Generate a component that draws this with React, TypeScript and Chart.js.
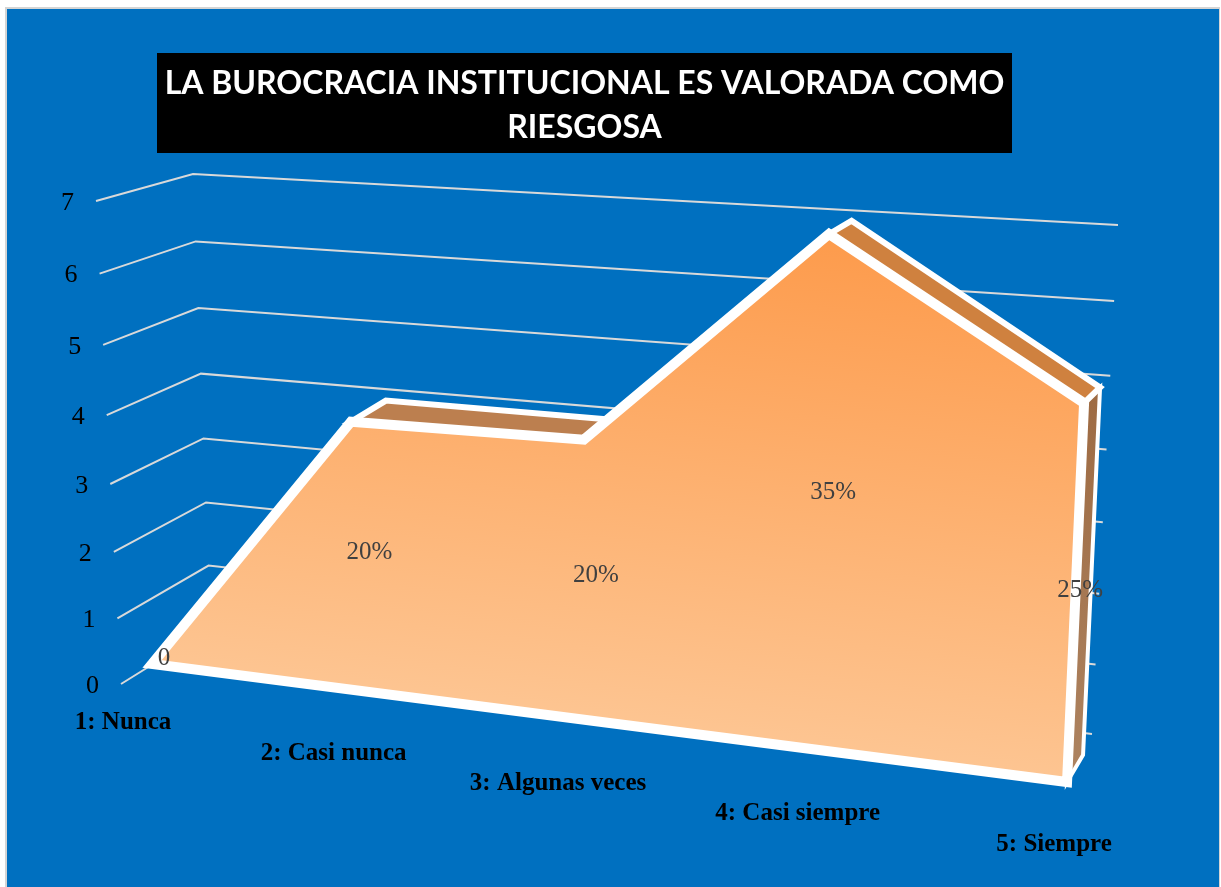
import React, { useEffect, useRef } from "react";
import { Chart, registerables } from "chart.js";

Chart.register(...registerables);

const CATEGORY_LABELS = ["1: Nunca", "2: Casi nunca", "3: Algunas veces", "4: Casi siempre", "5: Siempre"];
const CATEGORY_NUMBERS = [1, 2, 3, 4, 5];
const SERIES_VALUES = [0, 4, 4, 7, 5];
const VALUE_LABELS = ["0", "20%", "20%", "35%", "25%"];
const AXIS_TICKS = [0, 1, 2, 3, 4, 5, 6, 7];
const TITLE_LINES = ["LA BUROCRACIA INSTITUCIONAL ES VALORADA COMO", "RIESGOSA"];

type P = [number, number];

// Square-to-quad homography: corners are bottom-left, bottom-right, top-right, top-left
function plane(p0: P, p1: P, p2: P, p3: P) {
  const [x0, y0] = p0, [x1, y1] = p1, [x2, y2] = p2, [x3, y3] = p3;
  const dx1 = x1 - x2, dx2 = x3 - x2, sx = x0 - x1 + x2 - x3;
  const dy1 = y1 - y2, dy2 = y3 - y2, sy = y0 - y1 + y2 - y3;
  const det = dx1 * dy2 - dx2 * dy1;
  const g = (sx * dy2 - dx2 * sy) / det;
  const h = (dx1 * sy - sx * dy1) / det;
  const a = x1 - x0 + g * x1, b = x3 - x0 + h * x3;
  const d = y1 - y0 + g * y1, e = y3 - y0 + h * y3;
  return (u: number, t: number): P => {
    const w = g * u + h * t + 1;
    return [(a * u + b * t + x0) / w, (d * u + e * t + y0) / w];
  };
}

const rational = (a: number, b: number, c: number, g: number, h: number) => (u: number, t: number) =>
  (a * u + b * t + c) / (1 + g * u + h * t);

// Depth planes of the 3D view, as functions of normalised category (u) and value (t)
const frontX = rational(831.5, -51.2, 152, -0.0783, -0.0675);
const frontY = rational(4.2, -466, 664, -0.1455, -0.0314);
const seriesFront = (u: number, t: number): P => [frontX(u, t), frontY(u, t)];
const depthOffset = (u: number, t: number): P => [
  (1 - u) * (40 + 2 * t) + u * 16,
  (1 - u) * (-25 + 5 * t) + u * (-27 + 16 * t),
];
const backWall = plane([211, 628], [1092, 734], [1118, 225], [193, 174]);
const leftX = rational(801.4, -25, 121, -0.123, 0);
const leftY = rational(122, -494.6, 684, 0, -0.0577);
const leftFront = (u: number, t: number): P => [leftX(u, t), leftY(u, t)];

const FRONT = 0, BACK = 1, WALL = 2, LEFT = 3;

function project(u: number, t: number, d: number): P {
  if (d === WALL) return backWall(u, t);
  if (d === LEFT) return leftFront(u, t);
  const f = seriesFront(u, t), o = depthOffset(u, t);
  return [f[0] + o[0] * d, f[1] + o[1] * d];
}

const closed = (pts: any[]) => [...pts, pts[0], pts[1]];

const frontPolygon = closed([
  ...CATEGORY_NUMBERS.map((c, i) => ({ x: c, y: SERIES_VALUES[i], d: FRONT })),
  { x: CATEGORY_NUMBERS[4], y: 0, d: FRONT },
]);

const ribbon = (i: number, j: number) =>
  closed([
    { x: CATEGORY_NUMBERS[i], y: SERIES_VALUES[i], d: FRONT },
    { x: CATEGORY_NUMBERS[j], y: SERIES_VALUES[j], d: FRONT },
    { x: CATEGORY_NUMBERS[j], y: SERIES_VALUES[j], d: BACK },
    { x: CATEGORY_NUMBERS[i], y: SERIES_VALUES[i], d: BACK },
  ]);

const sideRibbon = closed([
  { x: CATEGORY_NUMBERS[4], y: SERIES_VALUES[4], d: FRONT },
  { x: CATEGORY_NUMBERS[4], y: 0, d: FRONT },
  { x: CATEGORY_NUMBERS[4], y: 0, d: BACK },
  { x: CATEGORY_NUMBERS[4], y: SERIES_VALUES[4], d: BACK },
]);

const gridLine = (v: number) => [
  { x: CATEGORY_NUMBERS[0], y: v, d: LEFT },
  { x: CATEGORY_NUMBERS[0], y: v, d: WALL },
  { x: CATEGORY_NUMBERS[4], y: v, d: WALL },
];

const SERIF = '"Liberation Serif", serif';

const projection = {
  id: "projection",
  beforeDraw(chart: any) {
    const { ctx, width, height } = chart;
    ctx.save();
    ctx.fillStyle = "#FFFFFF";
    ctx.fillRect(0, 0, width, height);
    ctx.fillStyle = "#D4D4D4";
    ctx.fillRect(5, 7, 1215, height - 7);
    ctx.fillStyle = "#0070C0";
    ctx.fillRect(7, 9, 1212, height - 9);
    ctx.fillStyle = "#000000";
    ctx.fillRect(157, 53, 855, 100);
    ctx.restore();
  },
  afterLayout(chart: any) {
    const t = chart.titleBlock;
    t.left = 157;
    t.right = 1012;
    t.top = 62;
    t.bottom = 153;
  },
  afterDatasetsUpdate(chart: any) {
    const { x: xs, y: ys } = chart.scales;
    chart.data.datasets.forEach((ds: any, i: number) => {
      const meta = chart.getDatasetMeta(i);
      meta.data.forEach((el: any, k: number) => {
        const u = (xs.getPixelForValue(ds.data[k].x) - xs.left) / xs.width;
        const t = (ys.bottom - ys.getPixelForValue(ds.data[k].y)) / ys.height;
        const [px, py] = project(u, t, ds.data[k].d);
        el.x = px;
        el.y = py;
      });
    });
  },
  afterDatasetsDraw(chart: any) {
    const { ctx } = chart;
    const { x: xs, y: ys } = chart.scales;
    const norm = (c: number, v: number): [number, number] => [
      (xs.getPixelForValue(c) - xs.left) / xs.width,
      (ys.bottom - ys.getPixelForValue(v)) / ys.height,
    ];
    ctx.save();
    ctx.textBaseline = "middle";
    // value axis
    ctx.font = `26px ${SERIF}`;
    ctx.fillStyle = "#000000";
    ctx.textAlign = "right";
    ys.ticks.forEach((tick: any) => {
      const [u, t] = norm(CATEGORY_NUMBERS[0], tick.value);
      const [px, py] = project(u, t, LEFT);
      ctx.fillText(tick.label, px - 22, py + 2);
    });
    // category axis
    ctx.font = `bold 25px ${SERIF}`;
    ctx.textAlign = "center";
    CATEGORY_NUMBERS.forEach((c, i) => {
      const [u, t] = norm(c, -0.57);
      const [px, py] = project(u, t, LEFT);
      ctx.fillText(CATEGORY_LABELS[i], px, py + 2);
    });
    // data labels
    ctx.font = `25px ${SERIF}`;
    ctx.fillStyle = "#404040";
    CATEGORY_NUMBERS.forEach((c, i) => {
      const [u, t] = norm(c, SERIES_VALUES[i] / 2);
      const [px, py] = project(u, t, 0.3);
      ctx.fillText(VALUE_LABELS[i], px, py + 2);
    });
    ctx.restore();
  },
};

export default function App() {
  const ref = useRef<HTMLCanvasElement>(null);
  useEffect(() => {
    const canvas = ref.current!;
    const ctx = canvas.getContext("2d")!;

    const frontFill = ctx.createLinearGradient(830, 235, 765, 745);
    frontFill.addColorStop(0, "#FD9B4C");
    frontFill.addColorStop(1, "#FDC592");
    const sideFill = ctx.createLinearGradient(0, 400, 0, 770);
    sideFill.addColorStop(0, "#9E6B43");
    sideFill.addColorStop(1, "#AD8360");

    const base = { pointRadius: 0, tension: 0, clip: false as const, borderJoinStyle: "miter" as const };

    const chart = new Chart(canvas, {
      type: "line",
      data: {
        datasets: [
          { ...base, label: "Serie", data: frontPolygon, order: 0, borderColor: "#FFFFFF", borderWidth: 10, backgroundColor: frontFill, fill: "shape" },
          { ...base, label: "Serie borde 2-3", data: ribbon(1, 2), order: 1, borderColor: "#FFFFFF", borderWidth: 6, backgroundColor: "#BC7F4F", fill: "shape" },
          { ...base, label: "Serie borde 4-5", data: ribbon(3, 4), order: 1, borderColor: "#FFFFFF", borderWidth: 6, backgroundColor: "#CF813F", fill: "shape" },
          { ...base, label: "Serie lateral", data: sideRibbon, order: 1, borderColor: "#FFFFFF", borderWidth: 4, backgroundColor: sideFill, fill: "shape" },
          ...AXIS_TICKS.map((v) => ({
            ...base,
            label: `Rejilla ${v}`,
            data: gridLine(v),
            order: 2,
            borderColor: "#D9D9D9",
            borderWidth: 2,
            fill: false,
          })),
        ] as any,
      },
      options: {
        responsive: false,
        animation: false,
        events: [],
        layout: { padding: 0 },
        scales: {
          x: { type: "linear", min: 1, max: 5, display: false },
          y: { type: "linear", min: 0, max: 7, display: false, ticks: { stepSize: 1 } },
        },
        plugins: {
          legend: { display: false },
          tooltip: { enabled: false },
          title: {
            display: true,
            text: TITLE_LINES,
            color: "#FFFFFF",
            padding: 0,
            font: { family: '"Lato", sans-serif', weight: "bold", size: 32, lineHeight: 1.375 },
          },
        },
      },
      plugins: [projection as any],
    });
    return () => chart.destroy();
  }, []);
  return <canvas ref={ref} width={1221} height={887} style={{ position: "absolute", left: 0, top: 0, display: "block" }} />;
}
